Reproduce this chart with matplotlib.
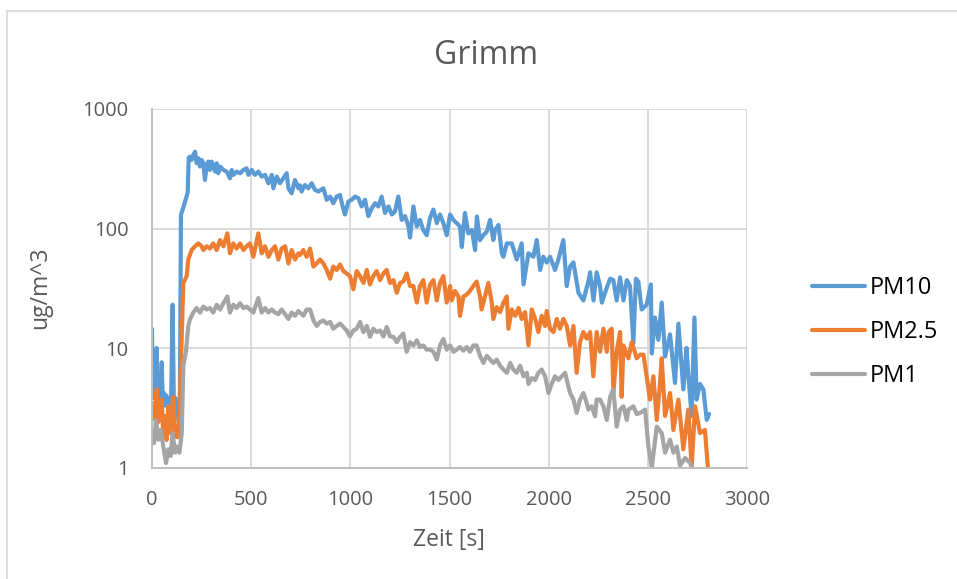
import matplotlib
matplotlib.use('Agg')
import matplotlib.pyplot as plt
from matplotlib.lines import Line2D
from matplotlib.ticker import NullLocator

plt.rcParams['font.family'] = ['Open Sans', 'DejaVu Sans']

# Zeit [s] und Konzentration [ug/m^3]
t_pm10 = [0, 4, 8, 12, 17, 23, 28, 34, 40, 49, 54, 60, 66, 72, 80, 88, 96, 104, 110, 118, 126, 133, 140, 146, 163, 180, 185,
          192, 200, 208, 217, 225, 234, 242, 250, 259, 267, 276, 284, 292, 301, 309, 318, 326, 334, 343, 360, 377, 393, 402, 410,
          427, 444, 461, 477, 486, 503, 519, 536, 553, 570, 587, 604, 612, 629, 645, 662, 679, 688, 704, 721, 738, 746,
          754, 771, 788, 805, 822, 839, 864, 881, 898, 914, 931, 948, 965, 973, 990, 1007, 1024, 1041, 1057, 1074, 1091, 1108,
          1125, 1141, 1158, 1175, 1192, 1209, 1225, 1242, 1259, 1276, 1293, 1301, 1318, 1335, 1351, 1368, 1385, 1402, 1419,
          1436, 1452, 1469, 1486, 1503, 1519, 1536, 1553, 1562, 1578, 1595, 1613, 1629, 1638, 1654, 1671, 1688, 1705, 1721,
          1730, 1747, 1764, 1772, 1789, 1814, 1839, 1864, 1873, 1898, 1923, 1940, 1957, 1973, 1990, 2007, 2032, 2049, 2074,
          2091, 2108, 2125, 2150, 2175, 2200, 2209, 2226, 2242, 2259, 2268, 2293, 2310, 2326, 2343, 2360, 2377, 2394, 2410,
          2427, 2440, 2452, 2469, 2494, 2515, 2520, 2536, 2553, 2570, 2587, 2612, 2637, 2654, 2679, 2695, 2704, 2721, 2735,
          2746, 2763, 2780, 2797, 2809]
pm10 = [14.5, 4.5, 9, 3.8, 6, 10, 3.5, 5, 3.3, 7.6, 3.6, 4.2, 3.3, 4, 3.5, 3.8, 3.4, 23, 3.6, 3.8, 3.4, 2.5, 2.6, 130, 160, 200, 390,
        399, 375, 412, 439, 352, 387, 330, 375, 352, 255, 341, 363, 309, 363, 330, 299, 352, 290, 330, 309, 299, 263, 309, 281,
        299, 290, 309, 319, 281, 309, 281, 299, 272, 281, 239, 281, 217, 272, 239, 263, 290, 217, 197, 255, 217, 230,
        204, 231, 217, 239, 210, 204, 217, 174, 185, 163, 185, 191, 144, 131, 168, 174, 185, 179, 153, 174, 127, 148,
        163, 153, 185, 135, 153, 131, 139, 185, 118, 127, 104, 84, 153, 104, 118, 97, 88, 123, 144,
        111, 131, 111, 88, 131, 118, 111, 104, 70, 135, 91, 97, 66, 126, 80, 88, 94, 118, 80,
        97, 107, 62, 58, 75, 75, 55, 75, 34, 62, 58, 80, 45, 58, 52, 58, 45, 55, 80,
        33, 48, 52, 29, 25, 36, 43, 25, 43, 33, 24, 32, 38, 37, 25, 39, 25, 37, 33,
        11, 38, 36, 21, 23, 34, 9, 18, 11.7, 24, 8.5, 13, 5.1, 16, 4.5, 10, 6, 2.7, 18,
        3.7, 5, 4.5, 2.5, 2.8]

t_pm25 = [3, 15, 23, 32, 40, 49, 57, 66, 74, 82, 91, 99, 107, 116, 124, 133, 141, 150, 158, 175, 183, 200, 217, 234, 250,
          259, 276, 292, 309, 326, 343, 360, 380, 393, 410, 427, 444, 461, 477, 494, 511, 536, 553, 570, 587, 604, 620, 637,
          654, 671, 688, 704, 721, 738, 746, 763, 780, 797, 814, 830, 847, 864, 881, 898, 914, 931, 948, 965, 982, 998, 1015,
          1032, 1049, 1066, 1083, 1099, 1116, 1133, 1150, 1167, 1183, 1200, 1217, 1234, 1251, 1267, 1284, 1301, 1318, 1335,
          1351, 1368, 1385, 1402, 1419, 1436, 1452, 1469, 1486, 1503, 1511, 1528, 1545, 1553, 1570, 1587, 1603, 1620, 1637,
          1654, 1662, 1679, 1696, 1713, 1721, 1738, 1755, 1772, 1789, 1797, 1814, 1831, 1848, 1864, 1881, 1898, 1915, 1932,
          1948, 1965, 1982, 1990, 2007, 2024, 2041, 2057, 2074, 2091, 2108, 2125, 2141, 2158, 2175, 2192, 2209, 2225, 2242,
          2259, 2276, 2293, 2302, 2318, 2326, 2343, 2360, 2368, 2377, 2402, 2419, 2444, 2461, 2478, 2494, 2511, 2528, 2545,
          2561, 2570, 2587, 2612, 2629, 2654, 2679, 2704, 2721, 2738, 2763, 2788, 2805]
pm25 = [3.46, 2.5, 4.5, 2.4, 3.25, 3.7, 1.8, 2.7, 1.7, 3.25, 1.95, 2.2, 3.9, 1.95, 1.8, 1.8, 4, 13, 35, 40, 55, 66, 71, 75, 71,
        66, 71, 68, 75, 66, 80, 71, 91, 62, 75, 68, 75, 66, 71, 75, 58, 91, 62, 71, 58, 66, 71, 55,
        68, 71, 51, 66, 55, 62, 60, 66, 58, 68, 48, 51, 55, 51, 45, 38, 48, 45, 50, 44, 42, 40, 31,
        44, 40, 35, 45, 34, 40, 44, 37, 42, 45, 35, 37, 29, 35, 36, 42, 33, 33, 24,
        33, 37, 24, 34, 37, 25, 35, 40, 24, 33, 25, 30, 27, 18.6, 27, 28, 30, 33, 36,
        27, 21, 27, 35, 24, 17.5, 22, 20, 24, 27, 14.5, 21, 18.6, 21.6, 17.5, 20, 10.5, 21, 17.5,
        13.6, 18.6, 15.3, 20.4, 14.5, 13.6, 17.5, 14.5, 17.5, 15.3, 10.5, 15.3, 6.2, 11.2, 13.6, 12, 13.6, 5.8, 13.6,
        9.3, 14.5, 9.3, 13.6, 14.5, 4.2, 9.3, 13.6, 3.9, 10.5, 8.2, 11.2, 8.2, 8.8, 8.8, 5.8, 3.7, 5.8, 2.5,
        5.0, 8.2, 2.7, 4.2, 2.06, 3.7, 1.42, 3.05, 1.0, 3.25, 1.94, 2.06, 0.9]

t_pm1 = [3, 10, 20, 32, 44, 57, 71, 82, 94, 104, 116, 124, 138, 150, 158, 171, 183, 192, 208, 225, 242, 259, 276, 292, 309,
         326, 343, 360, 380, 393, 410, 427, 444, 461, 477, 494, 511, 536, 553, 570, 587, 604, 620, 637, 654, 671, 688, 704,
         721, 738, 746, 763, 780, 797, 814, 830, 847, 864, 881, 898, 914, 931, 948, 965, 982, 998, 1015, 1032, 1049, 1066,
         1083, 1099, 1116, 1133, 1150, 1167, 1183, 1200, 1217, 1234, 1251, 1267, 1284, 1301, 1318, 1335, 1351, 1368, 1385,
         1402, 1419, 1436, 1452, 1469, 1486, 1503, 1520, 1536, 1553, 1570, 1587, 1603, 1620, 1637, 1654, 1671, 1688, 1705,
         1721, 1738, 1755, 1772, 1789, 1806, 1822, 1839, 1856, 1873, 1890, 1898, 1915, 1932, 1948, 1965, 1982, 1999, 2015,
         2032, 2049, 2066, 2083, 2099, 2108, 2125, 2141, 2158, 2175, 2192, 2200, 2217, 2234, 2242, 2259, 2276, 2293, 2310,
         2326, 2343, 2360, 2377, 2394, 2402, 2427, 2444, 2461, 2486, 2503, 2520, 2545, 2570, 2587, 2612, 2629, 2646, 2662,
         2688, 2713, 2730, 2760]
pm1 = [1.94, 1.6, 2.5, 1.71, 2.06, 1.5, 1.09, 1.42, 1.25, 1.94, 1.33, 1.5, 1.33, 1.94, 7.1, 9.3, 15.3, 17.5, 19.8, 21.6, 19.8, 22.2, 21, 21.6, 19.8,
       23, 21, 23.7, 27, 19.8, 23, 21.6, 23.7, 21.6, 22.2, 21, 19.8, 26.2, 19.8, 21.6, 19.8, 21, 19.8, 19.2, 21, 19.2, 17.5, 19.8,
       18.6, 20.4, 19.8, 18.6, 21, 21, 17, 15.3, 16.5, 17, 16, 16.5, 14.5, 15.3, 16, 15, 14, 12.5, 14, 14.5, 16.5, 13.6,
       15.3, 12.4, 14.5, 13.6, 14, 12.5, 15, 12.5, 12.4, 11.2, 12.4, 13.2, 9.3, 11.2, 10.5, 11.6, 10.2, 10.5, 9.7,
       9.7, 9.3, 8, 10.5, 11.9, 9.7, 10.5, 9.3, 9.7, 10.2, 9.5, 10.2, 9.3, 10.5, 10.5, 8.6, 7.5, 8.6, 8,
       7.5, 8, 7.1, 6.6, 6.2, 7.5, 6.6, 6.2, 7.1, 5.8, 6.2, 5.0, 5.6, 5.4, 6.2, 6.6, 5.8, 4.2, 5.0,
       5.8, 5.4, 5.8, 6.2, 4.8, 4.2, 3.7, 2.86, 3.7, 4.2, 3.46, 3.05, 3.25, 2.68, 3.7, 3.7, 3.25, 2.5, 3.9,
       4.5, 2.2, 3.05, 3.25, 2.5, 3.05, 3.25, 2.8, 2.86, 3.05, 1.5, 1.0, 2.2, 1.94, 1.33, 1.71, 1.33, 1.5, 1.04,
       1.2, 1.09, 0.95, 0.8]

series = ['PM10', 'PM2.5', 'PM1']
colors = ['#5B9BD5', '#ED7D31', '#A5A5A5']
y_ticks = [1, 10, 100, 1000]
y_labels = ['1', '10', '100', '1000']
x_ticks = [0, 500, 1000, 1500, 2000, 2500, 3000]

W, H = 957, 579
fig = plt.figure(figsize=(W / 100, H / 100), dpi=100)
ax = fig.add_axes([152 / W, 1 - 467.5 / H, (747 - 152) / W, (467.5 - 109) / H])

for t, v, name, c in zip([t_pm10, t_pm25, t_pm1], [pm10, pm25, pm1], series, colors):
    ax.plot(t, v, color=c, lw=3.0, label=name, solid_joinstyle='round', solid_capstyle='round')

ax.set_yscale('log')
ax.set_ylim(1, 1000)
ax.set_xlim(0, 3000)
ax.set_yticks(y_ticks)
ax.set_yticklabels(y_labels)
ax.yaxis.set_minor_locator(NullLocator())
ax.set_xticks(x_ticks)
ax.grid(True, color='#d9d9d9', lw=1.4)
ax.set_axisbelow(True)
ax.tick_params(length=0, labelsize=14.5, labelcolor='#595959')
ax.tick_params(axis='y', pad=17)
ax.tick_params(axis='x', pad=16)
for s in ['top', 'right']:
    ax.spines[s].set_visible(False)
for s in ['left', 'bottom']:
    ax.spines[s].set_color('#bfbfbf')
    ax.spines[s].set_linewidth(1.4)

fig.text(486 / W, 1 - 55 / H, 'Grimm', ha='center', va='center', fontsize=23, color='#595959')
fig.text(449 / W, 1 - 540 / H, 'Zeit [s]', ha='center', va='center', fontsize=16.5, color='#595959')
fig.text(40 / W, 1 - 288 / H, 'ug/m^3', ha='center', va='center', rotation=90, fontsize=16.5, color='#595959')

leg = ax.legend(loc='center left', bbox_to_anchor=(812 / W, 1 - 332 / H), bbox_transform=fig.transFigure,
                frameon=False, fontsize=17, handlelength=2.25, handletextpad=0.2, labelspacing=0.85,
                borderpad=0, borderaxespad=0)
for txt in leg.get_texts():
    txt.set_color('#000000')

# Rahmen des Diagramms
fig.add_artist(Line2D([7 / W, 7 / W], [0, 1 - 10.5 / H], transform=fig.transFigure, color='#d9d9d9', lw=1.2))
fig.add_artist(Line2D([7 / W, 1], [1 - 10.5 / H, 1 - 10.5 / H], transform=fig.transFigure, color='#d9d9d9', lw=1.2))

fig.savefig('out.png', dpi=100)
